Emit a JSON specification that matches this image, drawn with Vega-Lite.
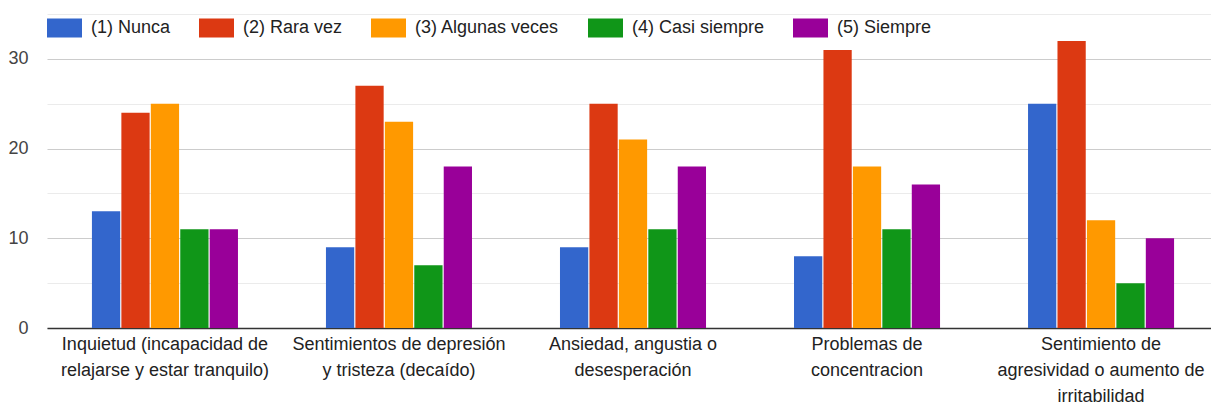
{
  "$schema": "https://vega.github.io/schema/vega-lite/v6.json",
  "width": 1164,
  "height": 314,
  "autosize": "none",
  "padding": {"left": 47, "top": 14, "right": 0, "bottom": 78},
  "background": "white",
  "config": {
    "view": {"stroke": null},
    "font": "Liberation Sans"
  },
  "data": {
    "values": [
      {"cat": "Inquietud (incapacidad de|relajarse y estar tranquilo)", "resp": "(1) Nunca", "value": 13},
      {"cat": "Inquietud (incapacidad de|relajarse y estar tranquilo)", "resp": "(2) Rara vez", "value": 24},
      {"cat": "Inquietud (incapacidad de|relajarse y estar tranquilo)", "resp": "(3) Algunas veces", "value": 25},
      {"cat": "Inquietud (incapacidad de|relajarse y estar tranquilo)", "resp": "(4) Casi siempre", "value": 11},
      {"cat": "Inquietud (incapacidad de|relajarse y estar tranquilo)", "resp": "(5) Siempre", "value": 11},
      {"cat": "Sentimientos de depresión|y tristeza (decaído)", "resp": "(1) Nunca", "value": 9},
      {"cat": "Sentimientos de depresión|y tristeza (decaído)", "resp": "(2) Rara vez", "value": 27},
      {"cat": "Sentimientos de depresión|y tristeza (decaído)", "resp": "(3) Algunas veces", "value": 23},
      {"cat": "Sentimientos de depresión|y tristeza (decaído)", "resp": "(4) Casi siempre", "value": 7},
      {"cat": "Sentimientos de depresión|y tristeza (decaído)", "resp": "(5) Siempre", "value": 18},
      {"cat": "Ansiedad, angustia o|desesperación", "resp": "(1) Nunca", "value": 9},
      {"cat": "Ansiedad, angustia o|desesperación", "resp": "(2) Rara vez", "value": 25},
      {"cat": "Ansiedad, angustia o|desesperación", "resp": "(3) Algunas veces", "value": 21},
      {"cat": "Ansiedad, angustia o|desesperación", "resp": "(4) Casi siempre", "value": 11},
      {"cat": "Ansiedad, angustia o|desesperación", "resp": "(5) Siempre", "value": 18},
      {"cat": "Problemas de|concentracion", "resp": "(1) Nunca", "value": 8},
      {"cat": "Problemas de|concentracion", "resp": "(2) Rara vez", "value": 31},
      {"cat": "Problemas de|concentracion", "resp": "(3) Algunas veces", "value": 18},
      {"cat": "Problemas de|concentracion", "resp": "(4) Casi siempre", "value": 11},
      {"cat": "Problemas de|concentracion", "resp": "(5) Siempre", "value": 16},
      {"cat": "Sentimiento de|agresividad o aumento de|irritabilidad", "resp": "(1) Nunca", "value": 25},
      {"cat": "Sentimiento de|agresividad o aumento de|irritabilidad", "resp": "(2) Rara vez", "value": 32},
      {"cat": "Sentimiento de|agresividad o aumento de|irritabilidad", "resp": "(3) Algunas veces", "value": 12},
      {"cat": "Sentimiento de|agresividad o aumento de|irritabilidad", "resp": "(4) Casi siempre", "value": 5},
      {"cat": "Sentimiento de|agresividad o aumento de|irritabilidad", "resp": "(5) Siempre", "value": 10}
    ]
  },
  "mark": {"type": "bar"},
  "encoding": {
    "x": {
      "field": "cat",
      "type": "nominal",
      "sort": null,
      "scale": {"range": [0, 1172], "paddingInner": 0.376, "paddingOuter": 0.192},
      "axis": {
        "title": null,
        "labelAngle": 0,
        "labelExpr": "split(datum.value, '|')",
        "labelFontSize": 18,
        "labelColor": "#222222",
        "labelLineHeight": 26,
        "labelPadding": 7,
        "labelLimit": 400,
        "ticks": false,
        "domainColor": "#333333",
        "domainWidth": 1.6,
        "grid": false
      }
    },
    "xOffset": {
      "field": "resp",
      "type": "nominal",
      "sort": null,
      "scale": {"paddingInner": 0.04, "paddingOuter": 0}
    },
    "y": {
      "field": "value",
      "type": "quantitative",
      "scale": {"domain": [0, 35], "nice": false},
      "axis": {
        "title": null,
        "values": [0, 5, 10, 15, 20, 25, 30, 35],
        "labelExpr": "datum.value % 10 === 0 ? datum.label : ''",
        "labelFontSize": 18,
        "labelColor": "#444444",
        "labelPadding": 19,
        "ticks": false,
        "domain": false,
        "grid": true,
        "gridColor": {"condition": {"test": "datum.value % 10 === 0", "value": "#cccccc"}, "value": "#ebebeb"},
        "gridWidth": 1.2
      }
    },
    "color": {
      "field": "resp",
      "type": "nominal",
      "sort": null,
      "scale": {
        "domain": ["(1) Nunca", "(2) Rara vez", "(3) Algunas veces", "(4) Casi siempre", "(5) Siempre"],
        "range": ["#3366cc", "#dc3912", "#ff9900", "#109618", "#990099"]
      },
      "legend": {
        "title": null,
        "orient": "none",
        "direction": "horizontal",
        "legendX": 0,
        "legendY": -4,
        "padding": 0,
        "symbolType": "M-1,-0.543L1,-0.543L1,0.543L-1,0.543Z",
        "symbolSize": 1225,
        "symbolStrokeWidth": 0,
        "symbolOpacity": 1,
        "labelFontSize": 18,
        "labelColor": "#222222",
        "labelOffset": 9,
        "columnPadding": 28,
        "labelLimit": 300
      }
    }
  }
}
